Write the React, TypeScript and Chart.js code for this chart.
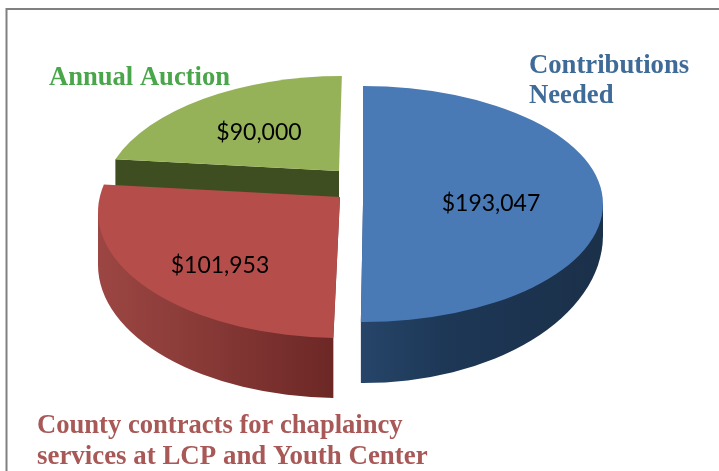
import React, { useEffect, useRef } from "react";
import { Chart, registerables } from "chart.js";

Chart.register(...registerables);

const categories = ["Contributions Needed", "County contracts", "Annual Auction"];
const amounts = [193047, 101953, 90000];
const faceColors = ["#4a7ab5", "#b54e4b", "#95b258"];

// Perspective projection of each exploded slice
const slices = [
  { ax: 363, ay: 204, cx: 363, cy: 204, rx: 240, ry: 118, skew: 0, wallCy: 235, wallRy: 148, side: 0, lx: 491, ly: 204 },
  { ax: 340, ay: 197, cx: 340, cy: 212, rx: 242, ry: 126, skew: -0.03, wallCy: 265, wallRy: 133, side: Math.PI, lx: 220, ly: 266 },
  { ax: 339, ay: 171, cx: 342, cy: 200, rx: 240, ry: 124, skew: -0.03, wallCy: 0, wallRy: 0, side: 0, lx: 259, ly: 133 },
];

const captions = [
  { lines: ["Contributions", "Needed"], x: 529, y: 73, step: 30, color: "#3f6b98", size: 26.7 },
  { lines: ["County contracts for chaplaincy"], x: 37, y: 433, step: 31, color: "#a85856", size: 26.6 },
  { lines: ["services at LCP and Youth Center"], x: 37, y: 464, step: 31, color: "#a85856", size: 26.9 },
  { lines: ["Annual Auction"], x: 49, y: 85, step: 30, color: "#4aa64a", size: 26.6 },
];

function rim(s: any, a: number) {
  const dy = Math.sin(a) * s.ry;
  const dx = Math.cos(a) * s.rx + s.skew * dy;
  const px = (s.ax - s.cx) / s.rx, py = (s.ay - s.cy) / s.ry;
  const qx = dx / s.rx, qy = dy / s.ry;
  const A = qx * qx + qy * qy, B = 2 * (px * qx + py * qy), C = px * px + py * py - 1;
  const t = (-B + Math.sqrt(B * B - 4 * A * C)) / (2 * A);
  const x = s.ax + t * dx, y = s.ay + t * dy;
  return { x, y, phi: Math.atan2((y - s.cy) / s.ry, (x - s.cx) / s.rx) };
}

function wallGradient(ctx: CanvasRenderingContext2D, i: number) {
  if (i === 0) {
    const g = ctx.createLinearGradient(362, 0, 603, 0);
    g.addColorStop(0, "#264569");
    g.addColorStop(0.35, "#1d3756");
    g.addColorStop(1, "#1b3049");
    return g;
  }
  const g = ctx.createLinearGradient(98, 0, 336, 0);
  g.addColorStop(0, "#9c4643");
  g.addColorStop(0.5, "#853835");
  g.addColorStop(1, "#6c2725");
  return g;
}

const pie3d = {
  id: "pie3d",
  beforeDraw(chart: any) {
    const { ctx, width, height } = chart;
    ctx.save();
    ctx.fillStyle = "#ffffff";
    ctx.fillRect(0, 0, width, height);
    ctx.strokeStyle = "#808080";
    ctx.lineWidth = 2;
    ctx.beginPath();
    ctx.moveTo(6.5, height);
    ctx.lineTo(6.5, 9);
    ctx.lineTo(width, 9);
    ctx.stroke();
    ctx.restore();
  },
  beforeDatasetDraw(chart: any) {
    const { ctx } = chart;
    const arcs = chart.getDatasetMeta(0).data;
    [2, 1, 0].forEach((i) => {
      const s = slices[i];
      const a = rim(s, arcs[i].startAngle);
      const b = rim(s, arcs[i].endAngle);
      ctx.save();
      // side wall
      ctx.beginPath();
      if (i === 2) {
        ctx.moveTo(a.x, a.y);
        ctx.lineTo(s.ax, s.ay);
        ctx.lineTo(s.ax, s.ay + 32);
        ctx.lineTo(a.x, a.y + 32);
        ctx.closePath();
        ctx.fillStyle = "#3f4e20";
      } else {
        const near = i === 0 ? b : a;
        const c = Math.max(-1, Math.min(1, (near.x - s.cx) / s.rx));
        const nearPhi = Math.acos(c);
        ctx.moveTo(s.ax, s.ay);
        ctx.lineTo(near.x, near.y);
        ctx.ellipse(s.cx, s.wallCy, s.rx, s.wallRy, 0, nearPhi, s.side, s.side < nearPhi);
        ctx.lineTo(s.cx + Math.cos(s.side) * s.rx, s.cy);
        ctx.closePath();
        ctx.fillStyle = wallGradient(ctx, i);
      }
      ctx.fill();
      // top face
      ctx.beginPath();
      ctx.moveTo(s.ax, s.ay);
      ctx.ellipse(s.cx, s.cy, s.rx, s.ry, 0, a.phi, b.phi, false);
      ctx.closePath();
      ctx.fillStyle = arcs[i].options.backgroundColor;
      ctx.fill();
      ctx.restore();
    });
    return false;
  },
  afterDraw(chart: any) {
    const { ctx } = chart;
    const values = chart.data.datasets[0].data;
    ctx.save();
    ctx.fillStyle = "#000000";
    ctx.font = '23px Lato';
    ctx.textAlign = "center";
    ctx.textBaseline = "middle";
    values.forEach((v: number, i: number) => {
      ctx.fillText("$" + v.toLocaleString("en-US"), slices[i].lx, slices[i].ly);
    });
    ctx.textAlign = "left";
    ctx.textBaseline = "alphabetic";
    captions.forEach((c) => {
      ctx.font = `bold ${c.size}px "Liberation Serif"`;
      ctx.fillStyle = c.color;
      c.lines.forEach((line, k) => ctx.fillText(line, c.x, c.y + k * c.step));
    });
    ctx.restore();
  },
};

export default function App() {
  const ref = useRef<HTMLCanvasElement>(null);
  useEffect(() => {
    const chart = new Chart(ref.current as HTMLCanvasElement, {
      type: "pie",
      data: {
        labels: categories,
        datasets: [{ data: amounts, backgroundColor: faceColors, borderWidth: 0 }],
      },
      options: {
        responsive: false,
        animation: false,
        plugins: { legend: { display: false }, tooltip: { enabled: false } },
      },
      plugins: [pie3d],
    } as any);
    return () => chart.destroy();
  }, []);
  return (
    <div style={{ position: "absolute", left: 0, top: 0, width: 719, height: 471, overflow: "hidden" }}>
      <canvas ref={ref} width={719} height={471} style={{ display: "block", filter: "blur(0.4px)" }} />
    </div>
  );
}
